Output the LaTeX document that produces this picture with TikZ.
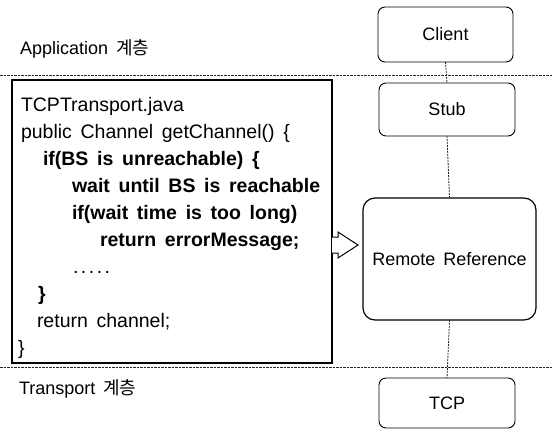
\documentclass[tikz,border=0pt]{standalone}
\usepackage{fontspec}
\setmainfont{Liberation Sans}
\newfontfamily\codefont{Liberation Sans}[WordSpace=1.6]
\newfontfamily\kor{Noto Sans CJK KR}
\usetikzlibrary{calc}

\begin{document}
\begin{tikzpicture}[x=1pt,y=-1pt,
  every node/.style={font=\fontsize{18}{22}\selectfont, inner sep=0pt, outer sep=0pt},
  layerline/.style={line width=0.9pt, dash pattern=on 2.5pt off 1pt, black!85},
  link/.style={line width=0.8pt, dash pattern=on 2pt off 1pt, black!85},
  box/.style={draw, line width=0.9pt, rounded corners=7pt},
  bigbox/.style={draw, line width=1.2pt, rounded corners=12pt},
  codebox/.style={draw, line width=1.6pt},
  codeline/.style={anchor=base west, font=\codefont\fontsize{19.5}{22}\selectfont},
  boldline/.style={anchor=base west, font=\codefont\fontsize{19.5}{22}\selectfont\bfseries},
  label/.style={anchor=base west, font=\fontsize{18}{22}\selectfont}
]
\useasboundingbox (0,0) rectangle (553,431);

% layer separators
\coordinate (upL) at (0,75);
\coordinate (upR) at (553,75);
\coordinate (loL) at (0,367);
\coordinate (loR) at (553,367);
\draw[layerline] (upL) -- (upR);
\draw[layerline] (loL) -- (loR);

% layer labels
\node[label] (applbl) at (20,54) {Application\hspace{3pt} {\kor 계층}};
\node[label] (trlbl) at (19,394) {Transport\hspace{3pt} {\kor 계층}};

% RMI stack
\node[box, minimum width=135pt, minimum height=55pt] (client) at (445.5,34.5) {Client};
\node[box, minimum width=136pt, minimum height=53pt] (stub) at (447,109.5) {Stub};
\node[bigbox, minimum width=173pt, minimum height=122pt] (rref) at (449.5,259) {Remote\hspace{3pt} Reference};
\node[box, minimum width=136pt, minimum height=50pt] (tcp) at (447,403) {TCP};

\draw[link] (client.south) -- (stub.north);
\draw[link] (stub.south) -- (rref.north);
\draw[link] (rref.south) -- (tcp.north);

% code listing
\node[codebox, minimum width=320pt, minimum height=283pt] (code) at (172,221.5) {};
\node[codeline] (l1) at (21,111) {TCPTransport.java};
\node[codeline] (l2) at (21,138) {public Channel getChannel() \{};
\node[boldline] (l3) at (43,165) {if(BS is unreachable) \{};
\node[boldline] (l4) at (72,192) {wait until BS is reachable};
\node[boldline] (l5) at (72,219) {if(wait time is too long)};
\node[boldline] (l6) at (100,246) {return errorMessage;};
\node[codeline] (l7) at (73,273) {.\kern2.5pt.\kern2.5pt.\kern2.5pt.\kern2.5pt.};
\node[boldline] (l8) at (38,300) {\}};
\node[codeline] (l9) at (37,327) {return channel;};
\node[codeline] (l10) at (18,354) {\}};

% hollow block arrow from the listing to the remote reference layer
\draw[line width=1pt, fill=white] (code.east |- 0,237) -- ++(6,0) -- ++(0,-5)
  -- ++(20,13) -- ++(-20,13) -- ++(0,-5) -- ++(-6,0);
\end{tikzpicture}
\end{document}
